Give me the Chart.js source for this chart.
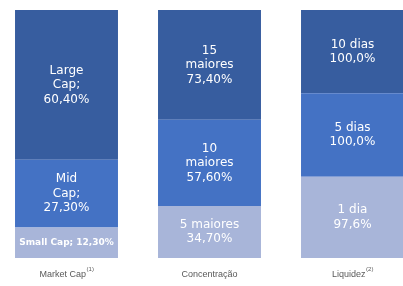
<!DOCTYPE html>
<html><head><meta charset="utf-8">
<script src="https://cdn.jsdelivr.net/npm/chart.js@4/dist/chart.umd.min.js"></script>
<style>
html,body{margin:0;padding:0;background:#fff;overflow:hidden;width:403px;height:286px;}
#wrap{position:absolute;left:-5px;top:0;width:429px;height:286px;}
</style></head>
<body><div id="wrap"><canvas id="c" width="429" height="286"></canvas></div>
<script>
const categories = ['Market Cap', 'Concentração', 'Liquidez'];
const footnotes = ['(1)', '', '(2)'];
const bottomValues = [12.3, 34.7, 97.6];
const middleValues = [27.3, 57.6, 100.0];
const topValues = [60.4, 73.4, 100.0];
const bottomLabels = [['Small Cap; 12,30%'], ['5 maiores', '34,70%'], ['1 dia', '97,6%']];
const middleLabels = [['Mid', 'Cap;', '27,30%'], ['10', 'maiores', '57,60%'], ['5 dias', '100,0%']];
const topLabels = [['Large', 'Cap;', '60,40%'], ['15', 'maiores', '73,40%'], ['10 dias', '100,0%']];

const sums = categories.map((_, i) => bottomValues[i] + middleValues[i] + topValues[i]);
const norm = arr => arr.map((v, i) => v / sums[i] * 100);

const segLabels = [bottomLabels, middleLabels, topLabels];

const labelPlugin = {
  id: 'segLabels',
  afterDatasetsDraw(chart) {
    const ctx = chart.ctx;
    ctx.save();
    ctx.fillStyle = '#ffffff';
    ctx.textAlign = 'center';
    ctx.textBaseline = 'middle';
    chart.data.datasets.forEach((ds, di) => {
      const meta = chart.getDatasetMeta(di);
      meta.data.forEach((bar, i) => {
        const lines = segLabels[di][i];
        const small = lines.length === 1 && lines[0].length > 12;
        ctx.font = small ? 'bold 9px "DejaVu Sans"' : '12px "DejaVu Sans"';
        const lh = 14.5;
        const cy = (bar.y + bar.base) / 2;
        const start = cy - (lines.length - 1) * lh / 2;
        lines.forEach((t, k) => ctx.fillText(t, bar.x, start + k * lh));
      });
    });
    // category labels
    const xs = chart.scales.x;
    categories.forEach((c, i) => {
      const x = xs.getPixelForValue(i);
      ctx.font = '9px "Liberation Sans"';
      const w1 = ctx.measureText(c).width;
      ctx.font = '6px "Liberation Sans"';
      const w2 = footnotes[i] ? ctx.measureText(footnotes[i]).width : 0;
      const left = x - (w1 + w2) / 2;
      ctx.fillStyle = '#595959';
      ctx.textAlign = 'left';
      ctx.font = '9px "Liberation Sans"';
      ctx.fillText(c, left, 275);
      if (footnotes[i]) {
        ctx.font = '6px "Liberation Sans"';
        ctx.fillText(footnotes[i], left + w1 + 0.5, 269);
      }
    });
    ctx.restore();
  }
};

new Chart(document.getElementById('c'), {
  type: 'bar',
  data: {
    labels: categories,
    datasets: [
      { data: norm(bottomValues), backgroundColor: '#A8B5D9' },
      { data: norm(middleValues), backgroundColor: '#4472C4' },
      { data: norm(topValues), backgroundColor: '#375D9F' }
    ]
  },
  options: {
    responsive: false,
    animation: false,
    layout: { padding: { top: 10, bottom: 28, left: 0, right: 0 } },
    datasets: { bar: { categoryPercentage: 1, barPercentage: 0.72, borderWidth: 0 } },
    plugins: { legend: { display: false }, tooltip: { enabled: false } },
    scales: {
      x: { stacked: true, display: false },
      y: { stacked: true, display: false, min: 0, max: 100 }
    }
  },
  plugins: [labelPlugin]
});
</script></body></html>
